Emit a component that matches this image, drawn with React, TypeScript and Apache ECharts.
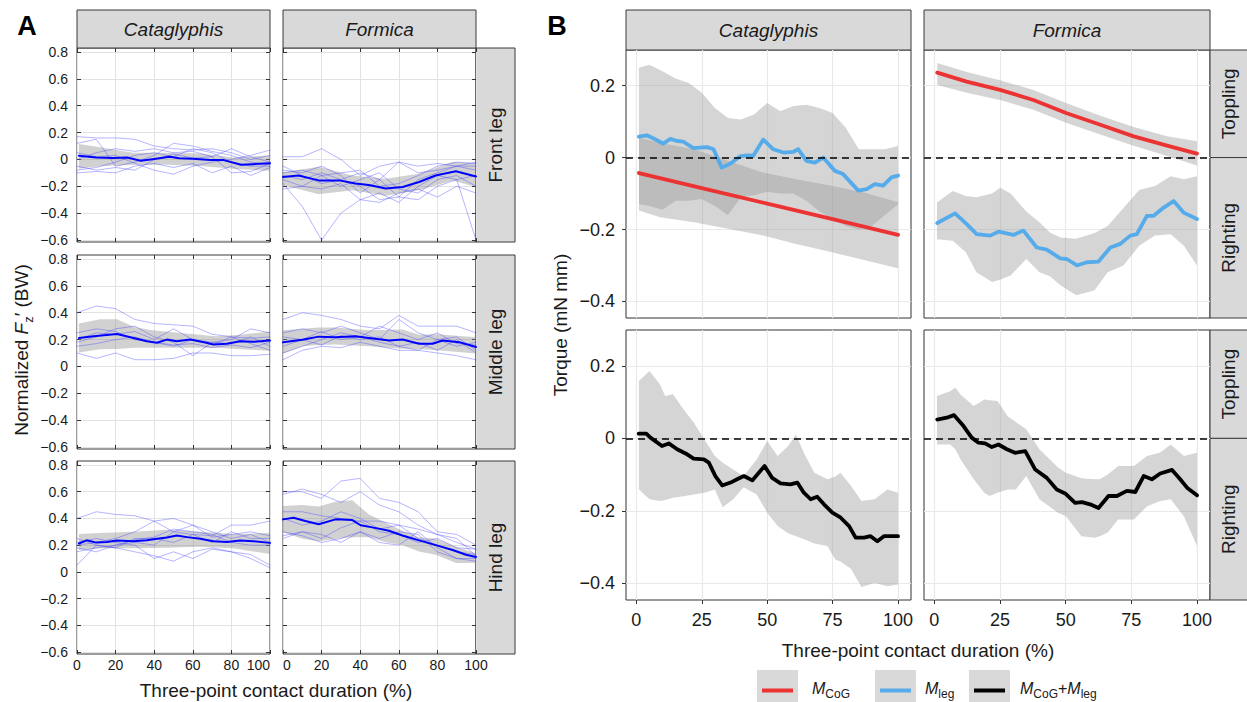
import React, { useEffect, useRef } from 'react';
import * as echarts from 'echarts';

const FONT = "'Liberation Sans', Arial, Helvetica, sans-serif";

// ---------------- Panel A data (normalized Fz', BW) ----------------
const A_TX = [0, 10, 20, 30, 40, 50, 60, 70, 80, 90, 100];
const A_XTICKS = [0, 20, 40, 60, 80, 100];
const A_YTICKS = [-0.6, -0.4, -0.2, 0, 0.2, 0.4, 0.6, 0.8];

// Cataglyphis – front leg
const aCataFrontMean = [[1, 0.028], [10, 0.015], [19, 0.01], [26, 0.015], [33, -0.01], [40, 0.003], [48, 0.02], [53, 0.008], [60, 0.005], [69, -0.005], [76, -0.005], [85, -0.04], [91, -0.035], [100, -0.028]];
const aCataFrontBand = [[1, -0.07, 0.115], [12, -0.05, 0.09], [29, -0.04, 0.05], [47, -0.04, 0.05], [64, -0.048, 0.045], [81, -0.07, 0.015], [100, -0.085, 0.03]];
const aCataFrontTrials = [
  [0.17, 0.16, 0.16, 0.15, 0.1, 0.08, 0.07, 0.08, 0.05, 0.0, 0.03],
  [0.12, 0.15, -0.05, -0.02, 0.03, 0.12, 0.1, 0.06, 0.03, -0.02, -0.04],
  [-0.08, -0.06, -0.02, 0.03, 0.05, 0.02, 0.08, 0.05, -0.02, -0.05, -0.05],
  [-0.1, -0.09, -0.1, -0.05, -0.03, -0.06, -0.03, -0.1, -0.05, -0.12, -0.06],
  [0.05, 0.02, 0.03, -0.03, -0.08, -0.11, -0.05, -0.02, 0.0, 0.03, 0.07],
  [-0.05, -0.08, -0.06, -0.08, 0.0, 0.04, 0.01, 0.02, 0.08, 0.02, -0.02],
  [0.0, 0.05, 0.08, 0.06, 0.08, 0.05, 0.06, 0.02, -0.1, -0.09, -0.03],
];

// Formica – front leg
const aFormFrontMean = [[0, -0.13], [8, -0.12], [18.5, -0.156], [29, -0.156], [37.6, -0.18], [44.5, -0.19], [53.2, -0.217], [62, -0.205], [70.5, -0.168], [79, -0.12], [89.6, -0.088], [100, -0.127]];
const aFormFrontBand = [[0, -0.19, -0.095], [18.5, -0.26, -0.054], [36, -0.23, -0.12], [53, -0.27, -0.144], [70.5, -0.23, -0.107], [88, -0.156, -0.02], [100, -0.205, -0.03]];
const aFormFrontTrials = [
  [-0.18, -0.35, -0.6, -0.4, -0.3, -0.32, -0.25, -0.22, -0.28, -0.2, -0.25],
  [0.02, 0.02, 0.08, 0.0, -0.12, -0.05, -0.02, -0.05, -0.03, -0.05, -0.02],
  [-0.08, -0.1, -0.05, -0.12, -0.25, -0.15, -0.02, -0.1, -0.08, -0.05, -0.05],
  [-0.12, -0.15, -0.1, -0.15, -0.2, -0.3, -0.28, -0.15, -0.1, -0.05, -0.08],
  [-0.15, -0.2, -0.22, -0.18, -0.3, -0.25, -0.32, -0.2, -0.12, -0.15, -0.6],
  [-0.1, -0.08, -0.12, -0.2, -0.15, -0.1, -0.22, -0.25, -0.15, -0.12, -0.2],
  [-0.22, -0.2, -0.12, -0.1, -0.08, -0.2, -0.18, -0.12, -0.05, -0.02, -0.03],
  [-0.05, -0.12, -0.18, -0.15, -0.1, -0.15, -0.28, -0.3, -0.2, -0.15, -0.12],
];

// Cataglyphis – middle leg
const aCataMidMean = [[1, 0.212], [8.6, 0.224], [20.7, 0.241], [29.3, 0.212], [36.2, 0.188], [41.4, 0.176], [46.6, 0.2], [51.7, 0.188], [58.6, 0.2], [67.2, 0.176], [70.7, 0.164], [77.6, 0.169], [84.5, 0.188], [91.4, 0.183], [100, 0.193]];
const aCataMidBand = [[1, 0.104, 0.32], [12, 0.128, 0.352], [20.7, 0.13, 0.352], [29.3, 0.14, 0.296], [38, 0.14, 0.272], [55, 0.14, 0.248], [72, 0.14, 0.224], [84.5, 0.128, 0.236], [100, 0.116, 0.26]];
const aCataMidTrials = [
  [0.4, 0.45, 0.43, 0.35, 0.32, 0.31, 0.3, 0.24, 0.22, 0.21, 0.22],
  [0.1, 0.06, 0.1, 0.05, 0.05, 0.06, 0.1, 0.1, 0.08, 0.08, 0.09],
  [0.2, 0.25, 0.24, 0.26, 0.2, 0.28, 0.2, 0.18, 0.2, 0.28, 0.25],
  [0.15, 0.17, 0.2, 0.22, 0.18, 0.15, 0.2, 0.16, 0.22, 0.17, 0.12],
  [0.18, 0.22, 0.28, 0.3, 0.22, 0.18, 0.08, 0.18, 0.17, 0.22, 0.15],
  [0.25, 0.28, 0.26, 0.2, 0.18, 0.16, 0.17, 0.14, 0.16, 0.14, 0.18],
];

// Formica – middle leg
const aFormMidMean = [[0, 0.18], [10, 0.198], [18.5, 0.222], [27, 0.217], [37.6, 0.224], [44.5, 0.212], [55, 0.193], [62, 0.2], [70.5, 0.169], [77.5, 0.169], [82.7, 0.193], [91.3, 0.181], [100, 0.145]];
const aFormMidBand = [[0, 0.096, 0.27], [10, 0.15, 0.28], [18.5, 0.16, 0.29], [27, 0.164, 0.29], [44.5, 0.15, 0.27], [62, 0.132, 0.275], [70.5, 0.13, 0.236], [80, 0.12, 0.24], [100, 0.096, 0.217]];
const aFormMidTrials = [
  [0.35, 0.4, 0.38, 0.35, 0.3, 0.28, 0.38, 0.3, 0.3, 0.3, 0.25],
  [0.25, 0.28, 0.25, 0.3, 0.25, 0.2, 0.35, 0.25, 0.2, 0.15, 0.18],
  [0.15, 0.2, 0.16, 0.23, 0.2, 0.22, 0.15, 0.12, 0.2, 0.22, 0.12],
  [0.05, 0.12, 0.15, 0.14, 0.18, 0.15, 0.12, 0.12, 0.1, 0.08, 0.05],
  [0.1, 0.15, 0.2, 0.25, 0.22, 0.18, 0.15, 0.18, 0.12, 0.2, 0.1],
  [0.22, 0.2, 0.26, 0.2, 0.22, 0.3, 0.25, 0.2, 0.25, 0.17, 0.16],
];

// Cataglyphis – hind leg
const aCataHindMean = [[1, 0.212], [5, 0.236], [10, 0.219], [15.5, 0.224], [20.7, 0.234], [29.3, 0.229], [36.2, 0.236], [41.4, 0.248], [46.6, 0.258], [51.7, 0.272], [57, 0.26], [63.8, 0.248], [70.7, 0.229], [77.6, 0.224], [84.5, 0.234], [91.4, 0.229], [100, 0.217]];
const aCataHindBand = [[1, 0.164, 0.284], [12, 0.176, 0.29], [29.3, 0.176, 0.3], [46.6, 0.18, 0.316], [63.8, 0.188, 0.3], [81, 0.176, 0.284], [100, 0.133, 0.29]];
const aCataHindTrials = [
  [0.4, 0.45, 0.43, 0.42, 0.38, 0.3, 0.28, 0.27, 0.35, 0.35, 0.38],
  [0.05, 0.2, 0.18, 0.15, 0.12, 0.08, 0.15, 0.18, 0.15, 0.1, 0.03],
  [0.2, 0.22, 0.25, 0.3, 0.38, 0.4, 0.35, 0.26, 0.28, 0.3, 0.27],
  [0.18, 0.15, 0.2, 0.22, 0.2, 0.3, 0.35, 0.3, 0.25, 0.28, 0.22],
  [0.22, 0.25, 0.22, 0.2, 0.1, 0.15, 0.1, 0.17, 0.15, 0.13, 0.05],
  [0.25, 0.2, 0.18, 0.25, 0.25, 0.22, 0.28, 0.22, 0.3, 0.25, 0.25],
  [0.15, 0.18, 0.2, 0.24, 0.26, 0.32, 0.3, 0.28, 0.22, 0.2, 0.2],
];

// Formica – hind leg
const aFormHindMean = [[0, 0.393], [5.5, 0.405], [11.6, 0.381], [18.5, 0.357], [27.2, 0.393], [35.9, 0.388], [40.2, 0.349], [46.3, 0.333], [54.9, 0.308], [61.9, 0.272], [70.5, 0.236], [79.2, 0.2], [87.9, 0.164], [94.8, 0.128], [100, 0.111]];
const aFormHindBand = [[0, 0.296, 0.494], [10, 0.248, 0.5], [18.5, 0.229, 0.489], [27.2, 0.248, 0.525], [35.9, 0.26, 0.537], [44.5, 0.26, 0.429], [53, 0.224, 0.37], [61.9, 0.2, 0.308], [70.5, 0.152, 0.26], [79.2, 0.128, 0.248], [89.6, 0.067, 0.188], [100, 0.067, 0.14]];
const aFormHindTrials = [
  [0.6, 0.6, 0.55, 0.68, 0.7, 0.55, 0.52, 0.45, 0.3, 0.28, 0.2],
  [0.58, 0.62, 0.58, 0.52, 0.6, 0.5, 0.45, 0.35, 0.28, 0.22, 0.17],
  [0.45, 0.45, 0.42, 0.4, 0.38, 0.38, 0.35, 0.32, 0.28, 0.25, 0.12],
  [0.25, 0.3, 0.28, 0.22, 0.3, 0.25, 0.3, 0.28, 0.15, 0.1, 0.08],
  [0.3, 0.27, 0.22, 0.25, 0.3, 0.22, 0.2, 0.3, 0.18, 0.1, 0.1],
  [0.4, 0.35, 0.38, 0.45, 0.4, 0.32, 0.35, 0.25, 0.2, 0.15, 0.13],
  [0.27, 0.3, 0.25, 0.33, 0.38, 0.3, 0.28, 0.22, 0.25, 0.18, 0.17],
];

// ---------------- Panel B data (torque, mN mm) ----------------
const B_XTICKS = [0, 25, 50, 75, 100];
const B_YTICKS = [-0.4, -0.2, 0, 0.2];

const bCataCogMean = [[1, -0.043], [25, -0.085], [50, -0.128], [75, -0.171], [100, -0.215]];
const bCataCogBand = [[1, -0.147, 0.055], [9, -0.166, 0.041], [22, -0.18, 0.023], [35, -0.198, -0.009], [48, -0.216, -0.041], [61, -0.24, -0.06], [74, -0.262, -0.078], [87, -0.285, -0.097], [100, -0.308, -0.124]];
const bCataLegMean = [[1, 0.058], [4, 0.062], [6.6, 0.053], [10.2, 0.039], [13, 0.052], [15.5, 0.046], [18, 0.044], [21.8, 0.026], [27, 0.029], [29.5, 0.023], [32.6, -0.028], [35.8, -0.017], [39.6, 0.003], [42.2, 0.006], [44.7, 0.005], [48.5, 0.05], [52.3, 0.023], [56.2, 0.014], [60, 0.016], [61.9, 0.023], [65, -0.009], [68.2, -0.014], [71.4, 0.0], [75.9, -0.037], [79, -0.046], [84.8, -0.092], [88, -0.088], [91.1, -0.074], [94.3, -0.078], [97.5, -0.055], [100, -0.05]];
const bCataLegBand = [[1, -0.129, 0.25], [5, -0.135, 0.258], [10, -0.145, 0.24], [15, -0.12, 0.22], [20, -0.12, 0.207], [25, -0.115, 0.18], [30, -0.135, 0.138], [35, -0.16, 0.11], [40, -0.11, 0.106], [45, -0.105, 0.12], [50, -0.095, 0.152], [55, -0.1, 0.129], [60, -0.1, 0.143], [65, -0.12, 0.147], [70, -0.15, 0.138], [75, -0.17, 0.124], [80, -0.19, 0.083], [85, -0.2, 0.023], [90, -0.19, 0.023], [95, -0.16, 0.023], [100, -0.13, 0.032]];

const bFormCogMean = [[1.1, 0.236], [12.3, 0.211], [25, 0.188], [37.7, 0.16], [50.4, 0.123], [63.2, 0.091], [75.9, 0.059], [88.6, 0.033], [100, 0.011]];
const bFormCogBand = [[1.1, 0.202, 0.263], [12.3, 0.18, 0.238], [25, 0.16, 0.215], [37.7, 0.133, 0.188], [50.4, 0.096, 0.151], [63.2, 0.064, 0.116], [75.9, 0.033, 0.085], [88.6, 0.004, 0.059], [100, -0.022, 0.045]];
const bFormLegMean = [[1.1, -0.182], [7.9, -0.155], [12.3, -0.185], [16.1, -0.213], [21.2, -0.217], [24.4, -0.206], [30.1, -0.215], [33.9, -0.203], [39, -0.25], [42.8, -0.256], [47.9, -0.28], [50.4, -0.282], [54.3, -0.3], [58.1, -0.291], [62.5, -0.289], [67, -0.25], [70.8, -0.24], [74.6, -0.217], [77.1, -0.213], [80.9, -0.162], [83.5, -0.162], [87.3, -0.139], [91.1, -0.121], [94.9, -0.153], [100, -0.171]];
const bFormLegBand = [[1, -0.227, -0.125], [7, -0.231, -0.093], [12, -0.263, -0.107], [16, -0.319, -0.11], [22, -0.346, -0.1], [25, -0.34, -0.084], [29, -0.328, -0.1], [35, -0.282, -0.15], [40, -0.319, -0.18], [44, -0.33, -0.208], [48, -0.355, -0.222], [54, -0.383, -0.226], [58, -0.375, -0.217], [61, -0.369, -0.21], [66, -0.319, -0.19], [72, -0.3, -0.14], [78, -0.245, -0.09], [84, -0.217, -0.079], [90, -0.213, -0.052], [95, -0.245, -0.06], [100, -0.3, -0.052]];

const bCataSumMean = [[0.9, 0.013], [3.8, 0.013], [5.4, 0.002], [9.8, -0.021], [12.4, -0.014], [15.6, -0.03], [19.4, -0.044], [21.9, -0.056], [25.8, -0.058], [27.7, -0.067], [30.2, -0.104], [32.8, -0.13], [36, -0.122], [38.5, -0.113], [41.1, -0.104], [44.3, -0.116], [46.8, -0.095], [49, -0.076], [51.9, -0.109], [55.1, -0.124], [58.9, -0.127], [61.5, -0.122], [64, -0.15], [66.6, -0.168], [69.1, -0.161], [71.7, -0.182], [74.9, -0.205], [78.1, -0.219], [81.3, -0.242], [83.8, -0.274], [87, -0.274], [89.5, -0.27], [92.1, -0.284], [94.6, -0.27], [97.2, -0.27], [100, -0.27]];
const bCataSumBand = [[1, -0.141, 0.158], [5, -0.168, 0.186], [9, -0.173, 0.149], [11, -0.17, 0.117], [14, -0.164, 0.122], [18, -0.16, 0.08], [22, -0.155, 0.043], [26, -0.15, -0.003], [30, -0.141, -0.049], [33, -0.19, -0.067], [37, -0.168, -0.086], [41, -0.135, -0.104], [46, -0.155, -0.058], [50, -0.205, -0.007], [54, -0.242, -0.049], [58, -0.262, -0.021], [61, -0.27, 0.011], [64, -0.278, -0.04], [68, -0.29, -0.095], [73, -0.297, -0.113], [76, -0.334, -0.105], [78, -0.34, -0.095], [82, -0.36, -0.131], [86, -0.41, -0.173], [91, -0.399, -0.168], [96, -0.408, -0.141], [100, -0.403, -0.15]];

const bFormSumMean = [[1.1, 0.052], [4.7, 0.057], [7.5, 0.064], [11.1, 0.034], [14.2, 0.002], [16.8, -0.012], [19.3, -0.014], [21.9, -0.024], [24.4, -0.017], [27.6, -0.03], [30.7, -0.04], [34.6, -0.035], [38.4, -0.086], [42.8, -0.109], [46.6, -0.141], [49.8, -0.152], [53.6, -0.178], [56.2, -0.176], [59.3, -0.182], [62.5, -0.192], [66.3, -0.159], [69.5, -0.159], [73.3, -0.145], [76.5, -0.148], [79.7, -0.104], [82.8, -0.113], [86, -0.097], [90.5, -0.087], [93.6, -0.113], [96.2, -0.136], [100, -0.157]];
const bFormSumBand = [[1, -0.017, 0.117], [6, -0.017, 0.13], [8, -0.03, 0.14], [10, -0.058, 0.12], [15, -0.113, 0.089], [19, -0.15, 0.107], [21, -0.159, 0.105], [24, -0.15, 0.103], [28, -0.141, 0.06], [31, -0.141, 0.045], [35, -0.104, 0.025], [40, -0.168, -0.03], [47, -0.205, -0.08], [50, -0.214, -0.095], [56, -0.27, -0.11], [61, -0.274, -0.113], [63, -0.27, -0.113], [66, -0.26, -0.1], [70, -0.224, -0.076], [76, -0.224, -0.076], [81, -0.187, -0.049], [86, -0.173, -0.039], [90, -0.168, -0.017], [95, -0.215, -0.049], [100, -0.297, -0.04]];

const STRIP_COLS = ['Cataglyphis', 'Formica'];
const STRIP_LEGS = ['Front leg', 'Middle leg', 'Hind leg'];
const LEGEND_ITEMS = ['{i|M}{s|CoG}', '{i|M}{s|leg}', '{i|M}{s|CoG}{n|+}{i|M}{s|leg}'];

// ---------------- layout ----------------
const A_COLS = [77, 283];
const A_W = 193;
const A_ROWS = [[48, 194], [255, 194], [461, 193]];
const A_MIN = -0.615, A_MAX = 0.83;
const B_COLS = [[626, 285], [924, 286]];
const B_ROWS = [[50, 268], [330, 270]];
const B_XMIN = -3.95, B_XMAX = 104.95;
const B_MIN = -0.446, B_MAX = 0.299;

const RED = '#ec3333';
const BLUE = '#56abea';
const BAND = 'rgba(150,150,150,0.4)';

function fmtStep(v: number, step: number, digits: number) {
  const k = Math.round(v / step);
  if (Math.abs(v - k * step) > 1e-6) return '';
  const r = k * step;
  if (Math.abs(r) < 1e-9) return '0';
  return (r < 0 ? '\u2212' : '') + Math.abs(r).toFixed(digits);
}

function bandSeries(idx: number, data: number[][], fill: string) {
  return {
    type: 'custom',
    xAxisIndex: idx,
    yAxisIndex: idx,
    data,
    silent: true,
    encode: { x: 0, y: [1, 2] },
    renderItem: (params: any, api: any) => {
      if (params.dataIndex !== 0) return null;
      const up = data.map((d) => api.coord([d[0], d[2]]));
      const lo = data.slice().reverse().map((d) => api.coord([d[0], d[1]]));
      return { type: 'polygon', shape: { points: up.concat(lo) }, style: { fill }, silent: true };
    },
  };
}

function lineSeries(idx: number, data: number[][], color: string, width: number, extra: any = {}) {
  return {
    type: 'line',
    xAxisIndex: idx,
    yAxisIndex: idx,
    data,
    symbol: 'none',
    showSymbol: false,
    silent: true,
    lineStyle: { color, width, cap: 'round', join: 'round' },
    itemStyle: { color },
    ...extra,
  };
}

const zeroDash = {
  silent: true,
  symbol: 'none',
  label: { show: false },
  lineStyle: { color: '#000', width: 1.5, type: [7, 5] },
  data: [{ yAxis: 0 }],
};

function buildOption() {
  const grid: any[] = [];
  const xAxis: any[] = [];
  const yAxis: any[] = [];
  const series: any[] = [];
  const graphic: any[] = [];
  const extraX: any[] = [];
  const extraY: any[] = [];

  // ---- Panel A ----
  const aPanels = [
    { mean: aCataFrontMean, band: aCataFrontBand, trials: aCataFrontTrials },
    { mean: aFormFrontMean, band: aFormFrontBand, trials: aFormFrontTrials },
    { mean: aCataMidMean, band: aCataMidBand, trials: aCataMidTrials },
    { mean: aFormMidMean, band: aFormMidBand, trials: aFormMidTrials },
    { mean: aCataHindMean, band: aCataHindBand, trials: aCataHindTrials },
    { mean: aFormHindMean, band: aFormHindBand, trials: aFormHindTrials },
  ];
  const tickStyle = { show: true, inside: true, length: 4, lineStyle: { color: '#333' } };
  aPanels.forEach((p, i) => {
    const row = Math.floor(i / 2);
    const col = i % 2;
    grid.push({ left: A_COLS[col], top: A_ROWS[row][0], width: A_W, height: A_ROWS[row][1], show: true, borderColor: '#3a3a3a', borderWidth: 1, backgroundColor: 'transparent' });
    xAxis.push({
      gridIndex: i, type: 'value', min: 0, max: 100, interval: 20,
      axisLine: { show: false, onZero: false },
      axisTick: tickStyle,
      axisLabel: {
        show: row === 2, fontSize: 14, color: '#1a1a1a', margin: 4, fontFamily: FONT, customValues: A_XTICKS,
        alignMaxLabel: col === 0 ? 'right' : 'center', alignMinLabel: col === 1 ? 'left' : 'center',
      },
      splitLine: { show: true, lineStyle: { color: '#e2e2e2', width: 1 } },
    });
    yAxis.push({
      gridIndex: i, type: 'value', min: A_MIN, max: A_MAX, minInterval: 0.2, maxInterval: 0.2,
      axisLine: { show: false, onZero: false },
      axisTick: { ...tickStyle, customValues: A_YTICKS },
      axisLabel: { show: col === 0, customValues: A_YTICKS, formatter: (v: number) => fmtStep(v, 0.2, 1), fontSize: 14, color: '#1a1a1a', margin: 9, fontFamily: FONT },
      splitLine: { show: true, lineStyle: { color: '#e2e2e2', width: 1 } },
    });
    // box ticks on top and right (ticks only)
    extraX.push({
      gridIndex: i, type: 'value', position: 'top', min: 0, max: 100, interval: 20,
      axisLine: { show: false, onZero: false }, axisTick: tickStyle, axisLabel: { show: false }, splitLine: { show: false },
    });
    extraY.push({
      gridIndex: i, type: 'value', position: 'right', min: A_MIN, max: A_MAX, minInterval: 0.2, maxInterval: 0.2,
      axisLine: { show: false, onZero: false }, axisTick: { ...tickStyle, customValues: A_YTICKS }, axisLabel: { show: false }, splitLine: { show: false },
    });
    p.trials.forEach((t) => {
      series.push(lineSeries(i, A_TX.map((x, k) => [x, t[k]]), 'rgba(70,70,255,0.5)', 0.8));
    });
    series.push(bandSeries(i, p.band, 'rgba(140,140,140,0.4)'));
    series.push(lineSeries(i, p.mean, '#0000ff', 2));
  });

  // ---- Panel B ----
  const bPanels = [
    [{ band: bCataCogBand, mean: bCataCogMean, color: RED, dash: true }, { band: bCataLegBand, mean: bCataLegMean, color: BLUE }],
    [{ band: bFormCogBand, mean: bFormCogMean, color: RED, dash: true }, { band: bFormLegBand, mean: bFormLegMean, color: BLUE }],
    [{ band: bCataSumBand, mean: bCataSumMean, color: '#000', dash: true }],
    [{ band: bFormSumBand, mean: bFormSumMean, color: '#000', dash: true }],
  ];
  bPanels.forEach((layers, j) => {
    const i = 6 + j;
    const row = Math.floor(j / 2);
    const col = j % 2;
    grid.push({ left: B_COLS[col][0], top: B_ROWS[row][0], width: B_COLS[col][1], height: B_ROWS[row][1], show: true, borderColor: '#333', borderWidth: 1, backgroundColor: 'transparent' });
    xAxis.push({
      gridIndex: i, type: 'value', min: B_XMIN, max: B_XMAX, minInterval: 12.5, maxInterval: 12.5,
      axisLine: { show: false, onZero: false },
      axisTick: { show: row === 1, length: 4, lineStyle: { color: '#333' }, customValues: B_XTICKS },
      axisLabel: { show: row === 1, customValues: B_XTICKS, formatter: (v: number) => fmtStep(v, 25, 0), fontSize: 18, color: '#1a1a1a', margin: 11, fontFamily: FONT },
      splitLine: { show: true, lineStyle: { color: '#e9e9e9', width: 1.2 } },
    });
    yAxis.push({
      gridIndex: i, type: 'value', min: B_MIN, max: B_MAX, minInterval: 0.1, maxInterval: 0.1,
      axisLine: { show: false, onZero: false },
      axisTick: { show: col === 0, length: 4, lineStyle: { color: '#333' }, customValues: B_YTICKS },
      axisLabel: { show: col === 0, customValues: B_YTICKS, formatter: (v: number) => fmtStep(v, 0.2, 1), fontSize: 18, color: '#1a1a1a', margin: 11, fontFamily: FONT },
      splitLine: { show: true, lineStyle: { color: '#e9e9e9', width: 1.2 } },
    });
    layers.forEach((l: any) => {
      series.push(bandSeries(i, l.band, BAND));
      series.push(lineSeries(i, l.mean, l.color, 3.8, l.dash ? { markLine: zeroDash } : {}));
    });
  });

  // ---- strips & labels (graphic) ----
  const stripStyle = { fill: '#d9d9d9', stroke: '#3a3a3a', lineWidth: 1 };
  const txt = (x: number, y: number, text: string, size: number, extra: any = {}, rot = 0) => ({
    type: 'text', x, y, rotation: rot, silent: true,
    style: { text, fontSize: size, fontFamily: FONT, fill: '#1a1a1a', align: 'center', verticalAlign: 'middle', ...extra },
  });

  A_COLS.forEach((x, c) => {
    graphic.push({ type: 'rect', shape: { x, y: 10, width: A_W, height: 38 }, style: stripStyle, silent: true });
    graphic.push(txt(x + A_W / 2, 29, STRIP_COLS[c], 19, { fontStyle: 'italic' }));
  });
  A_ROWS.forEach((r, k) => {
    graphic.push({ type: 'rect', shape: { x: 476, y: r[0], width: 39, height: r[1] }, style: stripStyle, silent: true });
    graphic.push(txt(495.5, r[0] + r[1] / 2, STRIP_LEGS[k], 19, {}, Math.PI / 2));
  });
  B_COLS.forEach((c, k) => {
    graphic.push({ type: 'rect', shape: { x: c[0], y: 10, width: c[1], height: 40 }, style: stripStyle, silent: true });
    graphic.push(txt(c[0] + c[1] / 2, 30, STRIP_COLS[k], 19, { fontStyle: 'italic' }));
  });
  B_ROWS.forEach((r) => {
    const zeroY = r[0] + (B_MAX / (B_MAX - B_MIN)) * r[1];
    const x0 = B_COLS[1][0] + B_COLS[1][1];
    graphic.push({ type: 'rect', shape: { x: x0, y: r[0], width: 40, height: zeroY - r[0] }, style: stripStyle, silent: true });
    graphic.push({ type: 'rect', shape: { x: x0, y: zeroY, width: 40, height: r[0] + r[1] - zeroY }, style: stripStyle, silent: true });
    graphic.push(txt(x0 + 18, (r[0] + zeroY) / 2, 'Toppling', 19, {}, Math.PI / 2));
    graphic.push(txt(x0 + 18, (zeroY + r[0] + r[1]) / 2, 'Righting', 19, {}, Math.PI / 2));
  });

  graphic.push(txt(27, 26, 'A', 27, { fontWeight: 'bold', fill: '#000' }));
  graphic.push(txt(557, 26, 'B', 27, { fontWeight: 'bold', fill: '#000' }));

  graphic.push(txt(276, 690, 'Three-point contact duration (%)', 19));
  graphic.push(txt(918, 650, 'Three-point contact duration (%)', 19));
  graphic.push(txt(560, 325, 'Torque (mN mm)', 19, {}, Math.PI / 2));
  graphic.push({
    type: 'text', x: 23, y: 350, rotation: Math.PI / 2, silent: true,
    style: {
      text: '{n|Normalized }{i|F}{s|z}{n|\u2032 (BW)}',
      align: 'center', verticalAlign: 'middle', fill: '#1a1a1a',
      rich: {
        n: { fontSize: 19, fontFamily: FONT, lineHeight: 22, verticalAlign: 'top' },
        i: { fontSize: 19, fontFamily: FONT, fontStyle: 'italic', lineHeight: 22, verticalAlign: 'top' },
        s: { fontSize: 13, fontFamily: FONT, lineHeight: 13, padding: [10, 0, 0, 0], verticalAlign: 'top' },
      },
    },
  });

  const legendKeys = [
    { box: 757, color: RED, label: 812 },
    { box: 875, color: BLUE, label: 925 },
    { box: 969, color: '#000', label: 1020 },
  ];
  legendKeys.forEach((k, n) => {
    graphic.push({ type: 'rect', shape: { x: k.box, y: 670, width: 41, height: 41 }, style: { fill: '#d9d9d9' }, silent: true });
    graphic.push({ type: 'line', shape: { x1: k.box + 5, y1: 690.5, x2: k.box + 36, y2: 690.5 }, style: { stroke: k.color, lineWidth: 4 }, silent: true });
    graphic.push({
      type: 'text', x: k.label, y: 689, silent: true,
      style: {
        text: LEGEND_ITEMS[n], align: 'left', verticalAlign: 'middle', fill: '#1a1a1a',
        rich: {
          i: { fontSize: 16, fontFamily: FONT, fontStyle: 'italic', lineHeight: 18, verticalAlign: 'top' },
          n: { fontSize: 16, fontFamily: FONT, lineHeight: 18, verticalAlign: 'top' },
          s: { fontSize: 12, fontFamily: FONT, lineHeight: 12, padding: [8, 0, 0, 0], verticalAlign: 'top' },
        },
      },
    });
  });

  return {
    animation: false, backgroundColor: '#fff', grid,
    xAxis: xAxis.concat(extraX), yAxis: yAxis.concat(extraY),
    series, graphic,
  };
}

export default function App() {
  const ref = useRef<HTMLDivElement>(null);
  useEffect(() => {
    const chart = echarts.init(ref.current!, null, { renderer: 'svg' });
    chart.setOption(buildOption() as any);
    return () => chart.dispose();
  }, []);
  return <div ref={ref} style={{ position: 'fixed', left: 0, top: 0, width: 1247, height: 702, background: '#fff' }} />;
}
